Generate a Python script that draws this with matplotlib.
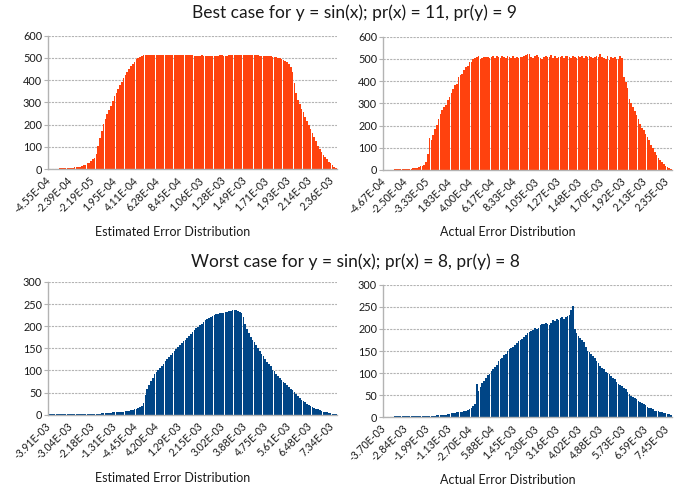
import matplotlib
matplotlib.use("Agg")
import matplotlib.pyplot as plt
import numpy as np

# ---------------- data (counts per bin) ----------------
best_estimated = [
    2, 2, 2, 2, 2, 2, 3, 3, 3, 3, 4, 4, 5, 6, 7, 8, 9, 11, 14, 18,
    20, 25, 29, 37, 43, 50, 66, 105, 138, 171, 204, 226, 247, 264, 284, 308, 328, 344, 361, 377,
    393, 410, 425, 437, 449, 462, 471, 482, 493, 500, 505, 510, 512, 512, 512, 512, 512, 512, 512, 512,
    512, 512, 512, 512, 512, 512, 512, 512, 512, 512, 512, 512, 512, 512, 512, 512, 512, 512, 512, 511,
    509, 509, 509, 510, 511, 508, 508, 508, 508, 508, 508, 508, 508, 509, 511, 512, 510, 509, 509, 511,
    512, 512, 512, 512, 512, 512, 512, 512, 512, 512, 512, 512, 512, 512, 512, 512, 510, 509, 509, 509,
    509, 509, 508, 506, 505, 503, 501, 498, 494, 490, 486, 480, 474, 460, 435, 385, 340, 312, 291, 272,
    255, 235, 215, 196, 180, 162, 143, 124, 104, 89, 76, 64, 53, 43, 33, 25, 16, 10, 5,
]
best_actual = [
    2, 2, 2, 2, 2, 2, 3, 3, 3, 3, 3, 3, 4, 5, 6, 6, 8, 9, 10, 14,
    18, 18, 24, 38, 70, 145, 137, 157, 183, 202, 228, 252, 268, 285, 294, 316, 330, 347, 366, 381,
    388, 417, 427, 432, 450, 463, 468, 488, 485, 498, 502, 508, 513, 500, 506, 510, 507, 510, 506, 509,
    512, 505, 515, 508, 506, 511, 507, 503, 514, 510, 506, 511, 504, 509, 503, 510, 508, 514, 516, 520,
    522, 510, 506, 513, 517, 507, 502, 499, 507, 514, 510, 508, 516, 505, 511, 505, 509, 507, 512, 505,
    513, 515, 509, 506, 512, 507, 504, 514, 509, 511, 506, 513, 508, 511, 507, 504, 510, 513, 507, 520,
    509, 506, 500, 512, 496, 509, 503, 510, 500, 498, 514, 505, 418, 398, 367, 318, 300, 285, 266, 246,
    228, 205, 191, 178, 162, 149, 133, 112, 97, 83, 68, 56, 45, 34, 25, 17, 12, 8, 4,
]
worst_estimated = [
    1, 1, 1, 1, 1, 1, 1, 1, 1, 1, 1, 1, 1, 1, 1, 1, 1, 1, 1, 1,
    1, 1, 2, 2, 2, 2, 2, 2, 2, 3, 3, 3, 4, 4, 4, 5, 5, 6, 6, 6,
    7, 7, 8, 9, 9, 10, 11, 12, 13, 15, 17, 20, 26, 44, 57, 68, 76, 84, 91, 97,
    102, 105, 111, 115, 121, 126, 131, 135, 140, 144, 149, 153, 158, 162, 166, 170, 174, 179, 182, 186,
    191, 195, 198, 202, 205, 209, 213, 216, 219, 221, 223, 225, 227, 228, 229, 230, 231, 232, 233, 234,
    235, 236, 237, 236, 235, 233, 231, 221, 205, 194, 184, 176, 170, 164, 158, 150, 144, 137, 132, 125,
    119, 114, 109, 102, 98, 92, 88, 83, 79, 75, 72, 67, 63, 58, 55, 51, 46, 42, 38, 34,
    31, 28, 25, 22, 19, 17, 16, 14, 12, 10, 8, 7, 6, 5, 4, 3, 2, 1, 1,
]
worst_actual = [
    1, 1, 1, 1, 1, 1, 2, 2, 2, 2, 2, 2, 2, 2, 2, 2, 2, 2, 2, 2,
    2, 2, 3, 4, 4, 4, 4, 4, 4, 5, 5, 6, 6, 6, 6, 7, 8, 9, 10, 10,
    11, 12, 12, 13, 14, 14, 16, 18, 20, 25, 30, 76, 60, 69, 77, 83, 89, 96, 98, 104,
    110, 113, 118, 127, 131, 135, 140, 144, 150, 154, 157, 160, 164, 168, 173, 176, 177, 181, 186, 190,
    192, 195, 197, 202, 200, 203, 208, 212, 210, 214, 210, 209, 213, 220, 218, 223, 221, 225, 226, 223,
    227, 229, 232, 242, 251, 200, 191, 185, 179, 175, 170, 159, 151, 147, 143, 139, 134, 127, 122, 117,
    112, 109, 103, 100, 97, 93, 90, 86, 80, 75, 74, 71, 67, 63, 57, 53, 49, 46, 44, 41,
    38, 35, 32, 29, 27, 24, 22, 20, 18, 15, 14, 15, 13, 11, 10, 9, 8, 8, 5,
]

best_estimated_labels = ["-4.55E-04", "-2.39E-04", "-2.19E-05", "1.95E-04", "4.11E-04", "6.28E-04",
                         "8.45E-04", "1.06E-03", "1.28E-03", "1.49E-03", "1.71E-03", "1.93E-03",
                         "2.14E-03", "2.36E-03"]
best_actual_labels = ["-4.67E-04", "-2.50E-04", "-3.33E-05", "1.83E-04", "4.00E-04", "6.17E-04",
                      "8.33E-04", "1.05E-03", "1.27E-03", "1.48E-03", "1.70E-03", "1.92E-03",
                      "2.13E-03", "2.35E-03"]
worst_estimated_labels = ["-3.91E-03", "-3.04E-03", "-2.18E-03", "-1.31E-03", "-4.45E-04", "4.20E-04",
                          "1.29E-03", "2.15E-03", "3.02E-03", "3.88E-03", "4.75E-03", "5.61E-03",
                          "6.48E-03", "7.34E-03"]
worst_actual_labels = ["-3.70E-03", "-2.84E-03", "-1.99E-03", "-1.13E-03", "-2.70E-04", "5.88E-04",
                       "1.45E-03", "2.30E-03", "3.16E-03", "4.02E-03", "4.88E-03", "5.73E-03",
                       "6.59E-03", "7.45E-03"]

titles = ["Best case for y = sin(x); pr(x) = 11, pr(y) = 9",
          "Worst case for y = sin(x); pr(x) = 8, pr(y) = 8"]
xlabels = ["Estimated Error Distribution", "Actual Error Distribution"]

# ---------------- styling ----------------
plt.rcParams['font.family'] = ['Lato', 'DejaVu Sans']
RED = "#ff420e"
BLUE = "#004586"
GRID = "#b3b3b3"
TEXT = "#1a1a1a"
LABEL_STEP = 12

W, H = 686, 493
fig = plt.figure(figsize=(W / 100, H / 100), dpi=100)


def rect(x0, y0, x1, y1):
    return [x0 / W, 1 - y1 / H, (x1 - x0) / W, (y1 - y0) / H]


def panel(r, vals, labels, color, ymax, ystep, xlabel, label_x, label_y):
    ax = fig.add_axes(rect(*r))
    x = np.arange(len(vals))
    ax.bar(x, vals, width=0.9, color=color, linewidth=0)
    ax.set_xlim(-0.5, len(vals) - 0.5)
    ax.set_ylim(0, ymax)
    ax.set_yticks(np.arange(0, ymax + 1, ystep))
    ticks = np.arange(0, len(vals), LABEL_STEP)[:len(labels)]
    ax.set_xticks(ticks)
    ax.set_xticklabels(labels, rotation=45, ha='right', va='center',
                       rotation_mode='anchor', fontsize=7.6, color=TEXT)
    ax.yaxis.grid(True, color=GRID, linestyle=(0, (2, 1)), linewidth=0.8)
    ax.set_axisbelow(True)
    for s in ['top', 'right']:
        ax.spines[s].set_visible(False)
    for s in ['left', 'bottom']:
        ax.spines[s].set_color(GRID)
        ax.spines[s].set_linewidth(1.0)
    ax.tick_params(axis='x', length=0, pad=7)
    ax.tick_params(axis='y', length=3, color=GRID, labelsize=7.8, labelcolor=TEXT, pad=1.5)
    x_ax = (label_x - r[0]) / (r[2] - r[0])
    y_ax = (r[3] - label_y) / (r[3] - r[1])
    ax.set_xlabel(xlabel, fontsize=9, color=TEXT, va='center')
    ax.xaxis.set_label_coords(x_ax, y_ax)
    return ax


panel((48.3, 35.7, 337, 169), best_estimated, best_estimated_labels, RED, 600, 100,
      xlabels[0], 173, 232)
panel((383.3, 36.7, 672, 170), best_actual, best_actual_labels, RED, 600, 100,
      xlabels[1], 508, 232)
panel((48.3, 282, 337, 414.7), worst_estimated, worst_estimated_labels, BLUE, 300, 50,
      xlabels[0], 173, 478)
panel((383.3, 284.7, 672, 417.3), worst_actual, worst_actual_labels, BLUE, 300, 50,
      xlabels[1], 508, 480)

fig.text(354 / W, 1 - 18.3 / H, titles[0], ha='center', va='baseline', fontsize=12.5, color=TEXT)
fig.text(355 / W, 1 - 266.7 / H, titles[1], ha='center', va='baseline', fontsize=12.5, color=TEXT)

fig.savefig("out.png", dpi=100)
